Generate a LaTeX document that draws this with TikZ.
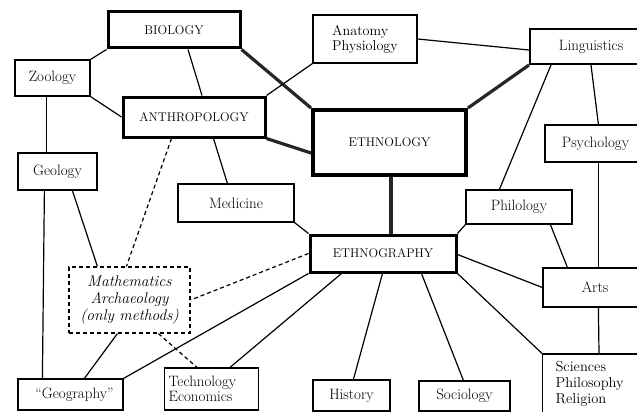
\documentclass[tikz,border=0pt]{standalone}
\usepackage{fontspec}
\usetikzlibrary{calc}
\newcommand\lcf{\fontsize{15}{15}\selectfont}
\newcommand\cpf{\fontsize{12.6}{14}\selectfont}
\newcommand\anf{\fontsize{14.2}{15}\selectfont}
\newcommand\scf{\fontsize{14.5}{16}\selectfont}
\newcommand\mtf{\fontsize{15.5}{17}\selectfont\itshape}
\begin{document}
\begin{tikzpicture}[x=1pt,y=-1pt,
 box/.style={draw, line width=1.2pt, inner sep=0pt, font=\lcf, align=center},
 capbox/.style={box, line width=3pt, font=\cpf},
 ln/.style={line width=1.2pt},
 tk/.style={line width=3.2pt, black!85},
 dsh/.style={line width=1.2pt, dash pattern=on 4pt off 3pt}]
\useasboundingbox (0,0) rectangle (637,412);
\clip (0,0) rectangle (637,412);
% nodes
\node[capbox, minimum width=132pt, minimum height=36pt] (bio) at (174,30) {BIOLOGY};
\node[box, minimum width=75pt, minimum height=36pt] (zoo) at (52.5,78) {Zoology};
\node[capbox, minimum width=142pt, minimum height=40pt] (anth) at (194,117) {ANTHROPOLOGY};
\node[box, minimum width=79pt, minimum height=37pt] (geo) at (57.5,171.5) {Geology};
\node[box, minimum width=116pt, minimum height=38pt] (med) at (236,203) {Medicine};
\node[box, minimum width=104pt, minimum height=48pt, align=left, font=\anf] (anat) at (365,39) {Anatomy\\Physiology};
\node[box, line width=2pt, minimum width=122pt, minimum height=35pt] (ling) at (591,46.5) {Linguistics};
\node[capbox, line width=4pt, minimum width=153pt, minimum height=65pt] (ethl) at (389.5,142.5) {ETHNOLOGY};
\node[box, minimum width=101pt, minimum height=37pt] (psy) at (595.5,143.5) {Psychology};
\node[box, minimum width=106pt, minimum height=34pt] (phil) at (519,207) {Philology};
\node[capbox, minimum width=146pt, minimum height=37pt] (ethg) at (383,253.5) {ETHNOGRAPHY};
\node[box, minimum width=104pt, minimum height=39pt] (arts) at (595,287.5) {Arts};
\node[box, anchor=west, minimum height=60pt, inner xsep=13pt, text width=94pt, align=left, font=\scf] (sci) at (542,384) {Sciences\\Philosophy\\Religion};
\node[box, minimum width=77pt, minimum height=31pt] (hist) at (351.5,395.5) {History};
\node[box, minimum width=91pt, minimum height=30pt] (soc) at (464.5,396) {Sociology};
\node[box, anchor=west, minimum height=42pt, inner xsep=4pt, text width=86pt, align=left] (tech) at (164,389) {Technology\\Economics};
\node[box, minimum width=105pt, minimum height=31pt] (geog) at (70.5,394.5) {\hspace{8pt}``Geography''};
\node[box, dsh, minimum width=121pt, minimum height=66pt, font=\mtf] (math) at (129.5,300) {Mathematics\\Archaeology\\(only methods)};
% thick connectors
\draw[tk] (bio.south east) -- (ethl.north west);
\draw[tk] (anth.south east) -- ([yshift=-10.5pt]ethl.west);
\draw[tk] (ling.south west) -- (ethl.north east);
\draw[tk] ([xshift=1.5pt]ethl.south) -- ([xshift=8pt]ethg.north);
% thin connectors
\draw[ln] (bio.south west) -- (zoo.north east);
\draw[ln] (zoo.south east) -- (anth.west);
\draw[ln] ([xshift=14pt]bio.south) -- ([xshift=8pt]anth.north);
\draw[ln] (anth.north east) -- (anat.south west);
\draw[ln] (anat.east) -- ([yshift=-3.5pt]ling.west);
\draw[ln] ([xshift=22pt]ling.south west) -- ([xshift=34pt]phil.north west);
\draw[ln] ([xshift=62pt]ling.south west) -- ([xshift=54pt]psy.north west);
\draw[ln] ([xshift=54pt]psy.south west) -- ([xshift=56pt]arts.north west);
\draw[ln] ([xshift=56pt]arts.south west) -- ([xshift=57pt]sci.north west);
\draw[ln] ([xshift=85pt]phil.south west) -- ([xshift=25pt]arts.north west);
\draw[ln] ([xshift=92pt]anth.south west) -- ([xshift=50pt]med.north west);
\draw[ln] ([xshift=32pt]zoo.south west) -- ([xshift=29pt]geo.north west);
\draw[ln] ([xshift=55pt]geo.south west) -- ([xshift=29pt]math.north west);
\draw[ln] ([xshift=27pt]geo.south west) -- ([xshift=25pt]geog.north west);
\draw[ln] (med.south east) -- (ethg.north west);
\draw[ln] (ethg.south west) -- (geog.north east);
\draw[ln] ([xshift=49pt]math.south west) -- ([xshift=67pt]geog.north west);
\draw[ln] ([xshift=33pt]ethg.south west) -- ([xshift=66pt]tech.north west);
\draw[ln] ([xshift=74pt]ethg.south west) -- ([xshift=41pt]hist.north west);
\draw[ln] ([xshift=113pt]ethg.south west) -- ([xshift=45pt]soc.north west);
\draw[ln] (ethg.south east) -- (sci.north west);
\draw[ln] ([yshift=-1pt]ethg.east) -- (arts.west);
\draw[ln] (ethg.north east) -- (phil.south west);
% dashed connectors
\draw[dsh] ([xshift=50pt]anth.south west) -- ([xshift=58pt]math.north west);
\draw[dsh] (ethg.west) -- (math.east);
\draw[dsh] ([xshift=90pt]math.south west) -- ([xshift=33pt]tech.north west);
\end{tikzpicture}
\end{document}
